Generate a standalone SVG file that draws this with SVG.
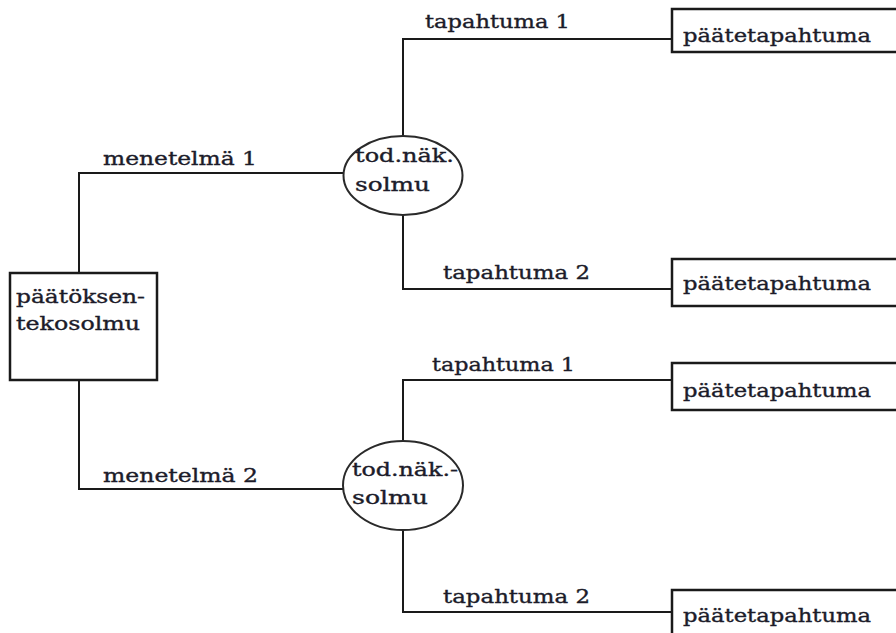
<svg xmlns="http://www.w3.org/2000/svg" width="896" height="633" viewBox="0 0 896 633">
<style>
.ln{fill:none;stroke:#1a1a1a;stroke-width:2}
.bx{fill:#fff;stroke:#1a1a1a;stroke-width:2.5}
.el{fill:#fff;stroke:#2a2a2a;stroke-width:2}
text{font-family:"DejaVu Serif","Liberation Serif",serif;font-size:18px;fill:#1c1c2a;stroke:#1c1c2a;stroke-width:0.35}
</style>
<rect width="896" height="633" fill="#fff"/>
<g id="connectors">
<path class="ln" d="M79 273 V173 H343"/>
<path class="ln" d="M79 380 V489 H343"/>
<path class="ln" d="M403 136 V39 H672"/>
<path class="ln" d="M403 215 V289 H672"/>
<path class="ln" d="M403 441 V380 H672"/>
<path class="ln" d="M403 530 V612 H672"/>
<text x="103" y="165" textLength="154" lengthAdjust="spacingAndGlyphs">menetelmä 1</text>
<text x="103" y="482" textLength="155" lengthAdjust="spacingAndGlyphs">menetelmä 2</text>
<text x="425" y="28" textLength="145" lengthAdjust="spacingAndGlyphs">tapahtuma 1</text>
<text x="443" y="279" textLength="147" lengthAdjust="spacingAndGlyphs">tapahtuma 2</text>
<text x="432" y="371" textLength="143" lengthAdjust="spacingAndGlyphs">tapahtuma 1</text>
<text x="443" y="603" textLength="147" lengthAdjust="spacingAndGlyphs">tapahtuma 2</text>
</g>
<g id="decision">
<rect class="bx" x="10" y="273" width="147" height="107"/>
<text x="16" y="303" textLength="129" lengthAdjust="spacingAndGlyphs">päätöksen-</text>
<text x="16" y="330" textLength="124" lengthAdjust="spacingAndGlyphs">tekosolmu</text>
</g>
<g id="chance1">
<ellipse class="el" cx="403" cy="175.5" rx="59.5" ry="39.5"/>
<text x="355" y="162" textLength="99" lengthAdjust="spacingAndGlyphs">tod.näk.</text>
<text x="355" y="191" textLength="75" lengthAdjust="spacingAndGlyphs">solmu</text>
</g>
<g id="chance2">
<ellipse class="el" cx="403" cy="485.5" rx="60" ry="44.5"/>
<text x="352" y="476" textLength="106" lengthAdjust="spacingAndGlyphs">tod.näk.-</text>
<text x="352" y="504" textLength="76" lengthAdjust="spacingAndGlyphs">solmu</text>
</g>
<g id="end1">
<rect class="bx" x="672" y="9" width="240" height="43"/>
<text x="683" y="42" textLength="188" lengthAdjust="spacingAndGlyphs">päätetapahtuma</text>
</g>
<g id="end2">
<rect class="bx" x="672" y="259" width="240" height="47"/>
<text x="683" y="290" textLength="188" lengthAdjust="spacingAndGlyphs">päätetapahtuma</text>
</g>
<g id="end3">
<rect class="bx" x="672" y="363" width="240" height="47"/>
<text x="683" y="397" textLength="188" lengthAdjust="spacingAndGlyphs">päätetapahtuma</text>
</g>
<g id="end4">
<rect class="bx" x="672" y="590" width="240" height="60"/>
<text x="683" y="622" textLength="188" lengthAdjust="spacingAndGlyphs">päätetapahtuma</text>
</g>
</svg>
